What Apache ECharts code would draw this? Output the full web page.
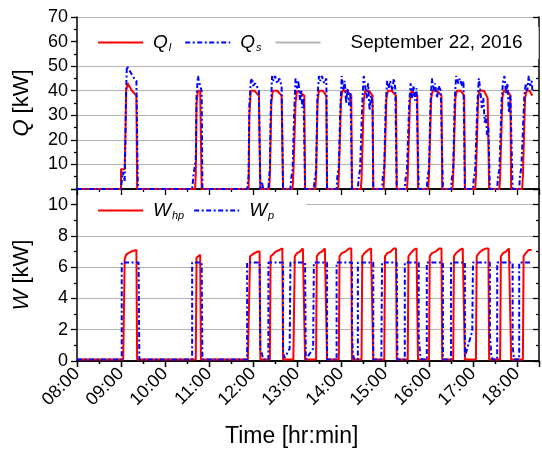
<!DOCTYPE html>
<html>
<head>
<meta charset="utf-8">
<script src="https://cdn.jsdelivr.net/npm/echarts@6/dist/echarts.min.js"></script>
<style>
  html, body { margin: 0; padding: 0; background: #fff; }
  #chart { width: 542px; height: 452px; }
</style>
</head>
<body>
<div id="chart"></div>
<script>
// 时间刻度（整点）
const timeTicks = ['08:00', '09:00', '10:00', '11:00', '12:00', '13:00', '14:00',
  '15:00', '16:00', '17:00', '18:00'];

// Q_l: 负荷侧热量 [kW]
const qLoad = [
  ['08:00', 0], ['09:00', 0], ['09:00', 8], ['09:05', 8], ['09:06', 22], ['09:07', 40], ['09:09', 43], ['09:11', 43], ['09:15', 40], ['09:21', 38], ['09:22', 0],
  ['10:41', 0], ['10:42', 6], ['10:43', 35], ['10:45', 40], ['10:48', 40], ['10:50', 0],
  ['11:54', 0], ['11:55', 30], ['11:57', 40], ['12:02', 40], ['12:08', 38], ['12:10', 0],
  ['12:22', 0], ['12:23', 5], ['12:25', 35], ['12:27', 40], ['12:33', 40], ['12:39', 38], ['12:41', 0],
  ['12:54', 0], ['12:55', 6], ['12:58', 35], ['13:00', 40], ['13:05', 39], ['13:10', 38], ['13:11', 0],
  ['13:25', 0], ['13:26', 5], ['13:28', 36], ['13:30', 40], ['13:35', 40], ['13:40', 38], ['13:41', 0],
  ['13:56', 0], ['13:57', 5], ['14:00', 36], ['14:02', 40], ['14:08', 40], ['14:14', 38], ['14:15', 0],
  ['14:27', 0], ['14:28', 4], ['14:31', 36], ['14:33', 40], ['14:38', 40], ['14:43', 38], ['14:44', 0],
  ['14:58', 0], ['14:59', 6], ['15:02', 37], ['15:04', 40], ['15:09', 40], ['15:15', 38], ['15:16', 0],
  ['15:30', 0], ['15:31', 5], ['15:34', 36], ['15:36', 40], ['15:40', 39], ['15:44', 38], ['15:45', 0],
  ['15:59', 0], ['16:00', 6], ['16:03', 37], ['16:05', 40], ['16:11', 40], ['16:17', 38], ['16:18', 0],
  ['16:32', 0], ['16:33', 5], ['16:36', 37], ['16:38', 40], ['16:43', 40], ['16:48', 38], ['16:49', 0],
  ['17:03', 0], ['17:04', 5], ['17:07', 37], ['17:09', 40], ['17:15', 40], ['17:20', 37], ['17:22', 0],
  ['17:36', 0], ['17:37', 5], ['17:40', 37], ['17:42', 40], ['17:47', 40], ['17:51', 38], ['17:52', 0],
  ['18:07', 0], ['18:08', 5], ['18:11', 37], ['18:13', 40], ['18:17', 40], ['18:21', 38]
];

// Q_s: 源侧热量 [kW]
const qSource = [
  ['08:00', 0], ['09:00', 0], ['09:01', 3], ['09:02', 7], ['09:04', 5], ['09:05', 3], ['09:06', 20], ['09:07', 40], ['09:08', 50], ['09:10', 49], ['09:14', 47], ['09:18', 45], ['09:21', 44], ['09:23', 0],
  ['10:37', 0], ['10:38', 3], ['10:39', 6], ['10:41', 6], ['10:42', 12], ['10:43', 38], ['10:45', 46], ['10:46', 44], ['10:48', 42], ['10:50', 40], ['10:51', 0],
  ['11:52', 0], ['11:53', 3], ['11:54', 5], ['11:55', 34], ['11:57', 44], ['11:59', 45], ['12:00', 42], ['12:03', 43], ['12:05', 42], ['12:08', 40], ['12:10', 0], ['12:12', 3], ['12:14', 0],
  ['12:21', 0], ['12:22', 5], ['12:23', 8], ['12:24', 30], ['12:26', 46], ['12:28', 44], ['12:30', 46], ['12:33', 43], ['12:36', 45], ['12:39', 42], ['12:41', 0],
  ['12:51', 0], ['12:52', 4], ['12:54', 8], ['12:56', 30], ['12:58', 45], ['13:00', 41], ['13:02', 44], ['13:04', 36], ['13:06', 40], ['13:07', 33], ['13:09', 37], ['13:11', 0],
  ['13:23', 0], ['13:24', 4], ['13:26', 7], ['13:28', 38], ['13:30', 46], ['13:32', 44], ['13:34', 46], ['13:37', 43], ['13:40', 45], ['13:41', 0],
  ['13:54', 0], ['13:55', 5], ['13:57', 9], ['13:59', 32], ['14:01', 46], ['14:03', 40], ['14:05', 44], ['14:07', 35], ['14:09', 41], ['14:11', 34], ['14:13', 39], ['14:15', 0],
  ['14:23', 0], ['14:24', 4], ['14:26', 8], ['14:29', 35], ['14:31', 46], ['14:33', 42], ['14:35', 37], ['14:37', 43], ['14:39', 32], ['14:41', 38], ['14:43', 35], ['14:44', 0],
  ['14:56', 0], ['14:57', 5], ['14:59', 9], ['15:01', 35], ['15:03', 44], ['15:05', 41], ['15:07', 44], ['15:10', 40], ['15:12', 45], ['15:14', 41], ['15:16', 0],
  ['15:27', 0], ['15:28', 4], ['15:30', 8], ['15:33', 35], ['15:35', 43], ['15:37', 37], ['15:39', 42], ['15:41', 36], ['15:43', 41], ['15:46', 0],
  ['15:57', 0], ['15:58', 5], ['16:00', 8], ['16:02', 35], ['16:04', 45], ['16:06', 40], ['16:08', 43], ['16:11', 37], ['16:13', 42], ['16:16', 40], ['16:19', 0],
  ['16:30', 0], ['16:31', 4], ['16:33', 8], ['16:35', 36], ['16:37', 46], ['16:40', 43], ['16:42', 45], ['16:45', 42], ['16:47', 44], ['16:49', 0],
  ['17:00', 0], ['17:01', 4], ['17:03', 8], ['17:06', 35], ['17:08', 45], ['17:10', 40], ['17:12', 33], ['17:14', 37], ['17:16', 27], ['17:18', 30], ['17:19', 22], ['17:21', 25], ['17:23', 0],
  ['17:33', 0], ['17:34', 5], ['17:36', 8], ['17:39', 36], ['17:41', 44], ['17:43', 46], ['17:45', 39], ['17:47', 43], ['17:49', 31], ['17:51', 38], ['17:54', 0],
  ['18:03', 0], ['18:04', 5], ['18:06', 9], ['18:10', 38], ['18:12', 43], ['18:14', 40], ['18:16', 46], ['18:18', 42], ['18:20', 44], ['18:21', 40]
];

// W_hp: 热泵功率 [kW]
const wHp = [
  ['08:00', 0.1], ['09:03', 0.1], ['09:05', 6.5], ['09:07', 6.8], ['09:10', 6.9], ['09:14', 7.0], ['09:21', 7.1], ['09:22', 0.1],
  ['10:42', 0.1], ['10:43', 6.6], ['10:45', 6.7], ['10:48', 6.8], ['10:49', 0.1],
  ['11:53', 0.1], ['11:56', 6.7], ['11:59', 6.8], ['12:02', 6.9], ['12:06', 7.0], ['12:09', 7.0], ['12:10', 0.1],
  ['12:23', 0.1], ['12:24', 6.7], ['12:27', 6.8], ['12:31', 7.0], ['12:36', 7.1], ['12:40', 7.2], ['12:41', 0.1],
  ['12:55', 0.1], ['12:57', 6.7], ['13:00', 6.9], ['13:04', 7.0], ['13:08', 7.2], ['13:10', 7.2], ['13:11', 0.1],
  ['13:26', 0.1], ['13:27', 6.7], ['13:30', 6.9], ['13:34', 7.0], ['13:38', 7.2], ['13:40', 7.2], ['13:41', 0.1],
  ['13:57', 0.1], ['13:58', 6.7], ['14:01', 6.9], ['14:06', 7.0], ['14:11', 7.2], ['14:14', 7.2], ['14:15', 0.1],
  ['14:28', 0.1], ['14:29', 6.7], ['14:32', 6.9], ['14:37', 7.1], ['14:41', 7.2], ['14:43', 7.2], ['14:44', 0.1],
  ['14:59', 0.1], ['15:00', 6.7], ['15:03', 6.9], ['15:08', 7.0], ['15:12', 7.2], ['15:15', 7.2], ['15:16', 0.1],
  ['15:31', 0.1], ['15:32', 6.7], ['15:35', 6.9], ['15:39', 7.1], ['15:43', 7.2], ['15:44', 7.2], ['15:45', 0.1],
  ['16:00', 0.1], ['16:01', 6.7], ['16:04', 6.9], ['16:09', 7.0], ['16:14', 7.2], ['16:17', 7.2], ['16:18', 0.1],
  ['16:33', 0.1], ['16:34', 6.7], ['16:37', 6.9], ['16:42', 7.1], ['16:46', 7.2], ['16:48', 7.2], ['16:49', 0.1],
  ['17:04', 0.1], ['17:05', 6.7], ['17:08', 6.9], ['17:13', 7.1], ['17:18', 7.2], ['17:21', 7.2], ['17:22', 0.1],
  ['17:37', 0.1], ['17:38', 6.7], ['17:41', 6.9], ['17:45', 7.0], ['17:49', 7.2], ['17:51', 7.2], ['17:52', 0.1],
  ['18:08', 0.1], ['18:09', 6.7], ['18:12', 6.9], ['18:16', 7.1], ['18:20', 7.1]
];

// W_p: 水泵功率 [kW]
const wPump = [
  ['08:00', 0.1], ['09:01', 0.1], ['09:01', 6.3], ['09:24', 6.3], ['09:25', 0.1],
  ['10:37', 0.1], ['10:37', 6.3], ['10:50', 6.3], ['10:51', 0.1],
  ['11:52', 0.1], ['11:52', 6.3], ['12:09', 6.3], ['12:10', 0.7], ['12:12', 0.5], ['12:14', 0.1],
  ['12:21', 0.1], ['12:21', 6.3], ['12:41', 6.3], ['12:41', 0.5], ['12:43', 0.2], ['12:48', 0.6], ['12:50', 0.8], ['12:51', 6.3],
  ['13:11', 6.3], ['13:12', 0.1], ['13:22', 0.8], ['13:23', 6.3],
  ['13:41', 6.3], ['13:41', 0.1], ['13:54', 0.1], ['13:54', 6.3],
  ['14:15', 6.3], ['14:15', 2.4], ['14:16', 0.5], ['14:18', 0.1], ['14:23', 0.1], ['14:23', 6.3],
  ['14:44', 6.3], ['14:44', 0.1], ['14:55', 0.1], ['14:56', 6.3],
  ['15:16', 6.3], ['15:17', 0.1], ['15:27', 0.1], ['15:27', 6.3],
  ['15:46', 6.3], ['15:46', 1.6], ['15:48', 0.4], ['15:50', 0.1], ['15:57', 0.1], ['15:57', 6.3],
  ['16:19', 6.3], ['16:19', 0.1], ['16:30', 0.1], ['16:30', 6.3],
  ['16:49', 6.3], ['16:49', 0.3], ['16:51', 0.4], ['16:59', 1.9], ['17:00', 6.3],
  ['17:23', 6.3], ['17:23', 1.8], ['17:25', 0.3], ['17:27', 0.1], ['17:33', 0.1], ['17:33', 6.3],
  ['17:54', 6.3], ['17:54', 1.0], ['17:56', 0.1], ['18:03', 0.1], ['18:03', 6.3], ['18:21', 6.3]
];

const FONT = '"Liberation Sans", Arial, sans-serif';
const RED = '#ff0000';
const BLUE = '#0000ff';
const DASH = [5, 2.5, 2, 2.5];

function toMin(t) {
  const [h, m] = t.split(':').map(Number);
  return h * 60 + m;
}
function toPoints(list) {
  return list.map(([t, v]) => [toMin(t), v]);
}
function timeLabel(v) {
  const h = Math.floor(v / 60), m = v % 60;
  const s = String(h).padStart(2, '0') + ':' + String(m).padStart(2, '0');
  return timeTicks.indexOf(s) >= 0 ? s : '';
}

const X_MIN = toMin('08:00');
const X_MAX = toMin('18:30');

const blackLine = { show: true, lineStyle: { color: '#000', width: 1.5 } };
const tickStyle = { color: '#000', width: 1.3 };

// 生成x轴
function makeX(gridIndex, position, opts) {
  return Object.assign({
    gridIndex: gridIndex, type: 'value', position: position,
    min: X_MIN, max: X_MAX, interval: 60,
    axisLine: blackLine,
    axisTick: { show: true, inside: true, length: 6, lineStyle: tickStyle },
    minorTick: { show: true, splitNumber: 2, length: 3, lineStyle: tickStyle },
    axisLabel: { show: false },
    splitLine: { show: false }
  }, opts || {});
}

// 生成y轴
function makeY(gridIndex, position, max, interval, opts) {
  return Object.assign({
    gridIndex: gridIndex, type: 'value', position: position,
    min: 0, max: max, interval: interval,
    axisLine: blackLine,
    axisTick: { show: true, inside: true, length: 6, lineStyle: tickStyle },
    minorTick: { show: true, splitNumber: 2, length: 3, lineStyle: tickStyle },
    axisLabel: { show: false },
    splitLine: { show: false }
  }, opts || {});
}

const labelStyle = { color: '#000', fontSize: 18, fontFamily: FONT };
const nameStyle = {
  color: '#000', fontSize: 22, fontFamily: FONT,
  rich: { i: { fontStyle: 'italic', fontSize: 22, fontFamily: FONT, color: '#000' } }
};

const legendText = {
  'Q_l': '{a|Q}{s|l}',
  'Q_s': '{a|Q}{t|s}',
  'September 22, 2016': '{d|September 22, 2016}',
  'W_hp': '{a|W}{s|hp}',
  'W_p': '{a|W}{s|p}'
};
const legendRich = {
  a: { fontSize: 19, fontStyle: 'italic', fontFamily: FONT, color: '#000', padding: [0, 0, 0, 5] },
  s: { fontSize: 11, fontStyle: 'italic', fontFamily: FONT, color: '#000', padding: [10, 0, 0, 1] },
  t: { fontSize: 11, fontStyle: 'italic', fontFamily: FONT, color: '#000', padding: [10, 11, 0, 1] },
  d: { fontSize: 19, fontFamily: FONT, color: '#000', padding: [0, 0, 0, 25] }
};
// 图例只画线，不画符号
const legendItemStyle = { opacity: 0, color: 'transparent', borderWidth: 0 };

const chart = echarts.init(document.getElementById('chart'), null, { renderer: 'canvas' });

const option = {
  animation: false,
  backgroundColor: '#fff',
  grid: [
    { left: 77, right: 3, top: 17, height: 172 },
    { left: 77, right: 3, top: 189, height: 172 }
  ],
  xAxis: [
    makeX(0, 'bottom', { axisTick: { show: false }, minorTick: { show: false } }),
    makeX(0, 'top'),
    makeX(1, 'bottom', {
      axisTick: { show: true, inside: false, length: 6, lineStyle: tickStyle },
      axisLabel: { show: true, rotate: 45, margin: 10, formatter: timeLabel, ...labelStyle }
    }),
    makeX(1, 'top')
  ],
  yAxis: [
    makeY(0, 'left', 70, 10, {
      axisTick: { show: true, inside: false, length: 6, lineStyle: tickStyle },
      axisLabel: { show: true, margin: 9, formatter: v => (v === 0 ? '' : v), ...labelStyle },
      splitLine: { show: true, lineStyle: { color: '#b4b4b4', width: 1.2 } },
      name: '{i|Q} [kW]', nameLocation: 'middle', nameGap: 44, nameTextStyle: nameStyle
    }),
    makeY(0, 'right', 70, 10),
    makeY(1, 'left', 11, 2, {
      axisTick: { show: true, inside: false, length: 6, lineStyle: tickStyle },
      axisLabel: { show: true, margin: 9, formatter: v => (v > 10 ? '' : v), ...labelStyle },
      splitLine: { show: true, lineStyle: { color: '#b4b4b4', width: 1.2 } },
      name: '{i|W} [kW]', nameLocation: 'middle', nameGap: 44, nameTextStyle: nameStyle
    }),
    makeY(1, 'right', 11, 2)
  ],
  legend: [
    {
      data: ['Q_l', 'Q_s', 'September 22, 2016'],
      left: 78, top: 27, itemWidth: 45, itemHeight: 12, itemGap: 13,
      backgroundColor: '#fff', padding: [6, 16, 6, 19],
      selectedMode: false,
      itemStyle: legendItemStyle,
      formatter: n => legendText[n],
      textStyle: { rich: legendRich }
    },
    {
      data: ['W_hp', 'W_p'],
      left: 78, top: 195, itemWidth: 45, itemHeight: 12, itemGap: 9,
      backgroundColor: '#fff', padding: [6, 32, 6, 19],
      selectedMode: false,
      itemStyle: legendItemStyle,
      formatter: n => legendText[n],
      textStyle: { rich: legendRich }
    }
  ],
  graphic: [
    {
      type: 'text', left: 225, top: 425,
      style: { text: 'Time [hr:min]', fill: '#000', font: '23px ' + FONT }
    }
  ],
  series: [
    {
      name: 'Q_l', type: 'line', xAxisIndex: 0, yAxisIndex: 0,
      data: toPoints(qLoad), symbol: 'none', color: RED,
      lineStyle: { color: RED, width: 2 }
    },
    {
      name: 'Q_s', type: 'line', xAxisIndex: 0, yAxisIndex: 0,
      data: toPoints(qSource), symbol: 'none', color: BLUE,
      lineStyle: { color: BLUE, width: 2, type: DASH }
    },
    {
      name: 'September 22, 2016', type: 'line', xAxisIndex: 0, yAxisIndex: 0,
      data: [], symbol: 'none', color: '#b4b4b4',
      lineStyle: { color: '#b4b4b4', width: 1.5 }
    },
    {
      name: 'W_hp', type: 'line', xAxisIndex: 2, yAxisIndex: 2,
      data: toPoints(wHp), symbol: 'none', color: RED,
      lineStyle: { color: RED, width: 2 }
    },
    {
      name: 'W_p', type: 'line', xAxisIndex: 2, yAxisIndex: 2,
      data: toPoints(wPump), symbol: 'none', color: BLUE,
      lineStyle: { color: BLUE, width: 2, type: DASH }
    }
  ]
};

chart.setOption(option, true);
window.addEventListener('resize', () => chart.resize());
</script>
</body>
</html>
